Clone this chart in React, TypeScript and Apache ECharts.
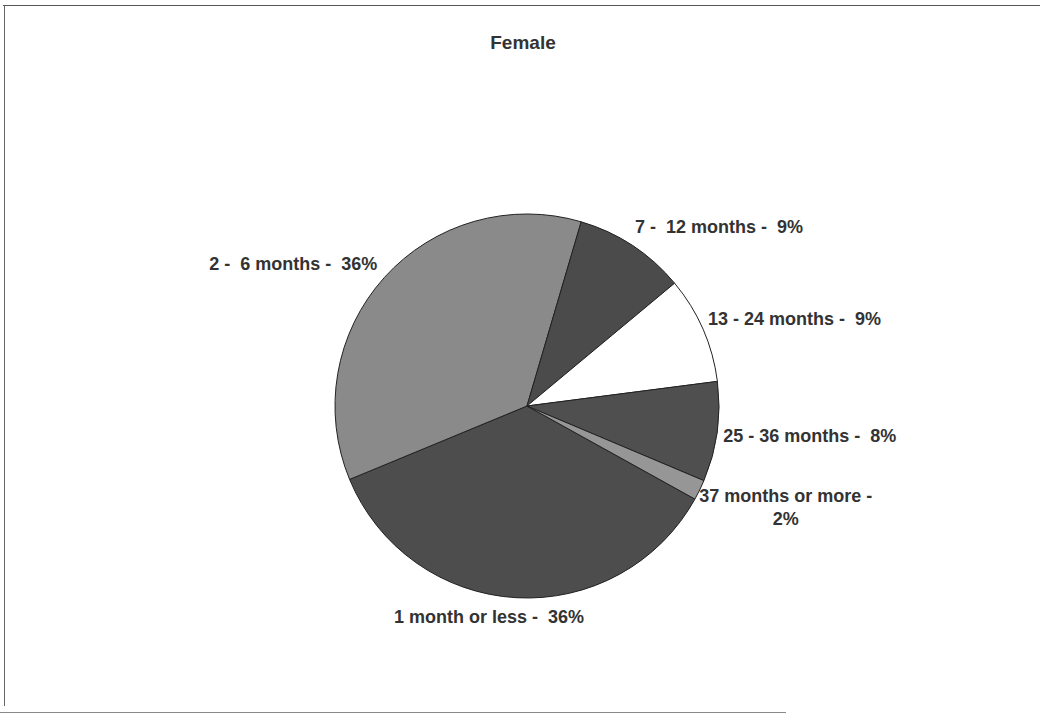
import React, { useEffect, useRef } from "react";
import * as echarts from "echarts";

const TITLE = "Female";
const CATEGORIES = [
  "1 month or less",
  "2 -  6 months",
  "7 -  12 months",
  "13 - 24 months",
  "25 - 36 months",
  "37 months or more",
];
const VALUES = [35.7, 35.8, 9.4, 9.0, 8.4, 1.7];
const COLORS = ["#4d4d4d", "#8a8a8a", "#4b4b4b", "#ffffff", "#4f4f4f", "#969696"];
// label offsets from the slice's rim point at its mid-angle: [dx, dy, align]
const LABEL_OFFSETS: [number, number, string][] = [
  [-27, 19, "center"],
  [-7, -14, "right"],
  [2.5, -19, "left"],
  [5, -10, "left"],
  [6, 4, "left"],
  [86, 18, "center"],
];

const CX = 527;
const CY = 406;
const R = 192;
const START_CW = 119; // degrees clockwise from 12 o'clock

const FONT = "'Liberation Sans', Arial, sans-serif";

export default function App() {
  const ref = useRef<HTMLDivElement>(null);
  useEffect(() => {
    if (!ref.current) return;
    const chart = echarts.init(ref.current, undefined, { renderer: "svg" });
    const total = VALUES.reduce((a, b) => a + b, 0);
    const mids: number[] = [];
    let cum = 0;
    VALUES.forEach((v) => {
      mids.push(START_CW + ((cum + v / 2) / total) * 360);
      cum += v;
    });
    chart.setOption({
      animation: false,
      backgroundColor: "#ffffff",
      title: {
        text: TITLE,
        left: 518,
        textAlign: "center",
        top: 28,
        textStyle: { fontSize: 19, fontWeight: "bold", color: "#333333", fontFamily: FONT },
      },
      graphic: [
        { type: "line", shape: { x1: 3, y1: 5.5, x2: 1040, y2: 5.5 }, style: { stroke: "#555", lineWidth: 1 } },
        { type: "line", shape: { x1: 4.5, y1: 5, x2: 4.5, y2: 706 }, style: { stroke: "#666", lineWidth: 1 } },
        { type: "line", shape: { x1: 0, y1: 712.5, x2: 786, y2: 712.5 }, style: { stroke: "#8a8a8a", lineWidth: 1 } },
      ],
      series: [
        {
          type: "pie",
          center: [CX, CY],
          radius: R,
          startAngle: 90 - START_CW,
          clockwise: true,
          avoidLabelOverlap: false,
          data: CATEGORIES.map((name, i) => ({
            name,
            value: VALUES[i],
            itemStyle: { color: COLORS[i] },
          })),
          itemStyle: { borderColor: "#222222", borderWidth: 1 },
          label: {
            show: true,
            position: "outside",
            color: "#333333",
            fontSize: 18,
            fontWeight: "bold",
            fontFamily: FONT,
            lineHeight: 23,
            formatter: (p: any) => {
              const sep = p.name.length > 16 ? " -\n" : " -  ";
              return p.name + sep + Math.round(p.percent) + "%";
            },
          },
          labelLine: { show: false, length: 0, length2: 0 },
          labelLayout: (params: any) => {
            const i = params.dataIndex;
            const a = (mids[i] * Math.PI) / 180;
            const x = CX + R * Math.sin(a);
            const y = CY - R * Math.cos(a);
            const off = LABEL_OFFSETS[i];
            return { x: x + off[0], y: y + off[1], align: off[2], verticalAlign: "middle" };
          },
          emphasis: { disabled: true },
        },
      ],
    });
    return () => chart.dispose();
  }, []);
  return (
    <div
      ref={ref}
      style={{ position: "absolute", left: 0, top: 0, width: 1040, height: 714 }}
    />
  );
}
